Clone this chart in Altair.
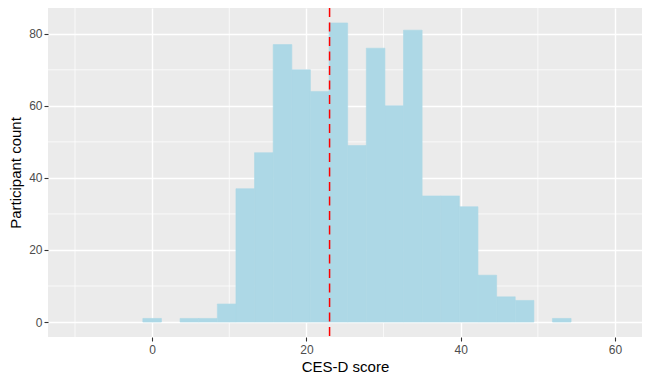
import altair as alt
import pandas as pd

# ---- data ----
binwidth = 70 / 29
bin_centers = [0.00, 2.41, 4.83, 7.24, 9.66, 12.07, 14.48, 16.90, 19.31, 21.72,
               24.14, 26.55, 28.97, 31.38, 33.79, 36.21, 38.62, 41.03, 43.45,
               45.86, 48.28, 50.69, 53.10]
counts = [1, 0, 1, 1, 5, 37, 47, 77, 70, 64,
          83, 49, 76, 60, 81, 35, 35, 32, 13,
          7, 6, 0, 1]
mean_score = [23.0]

x_major = [0, 20, 40, 60]
x_minor = [-10, 10, 30, 50]
y_major = [0, 20, 40, 60, 80]
y_minor = [10, 30, 50, 70]

hist = pd.DataFrame({
    "lo": [c - binwidth / 2 for c in bin_centers],
    "hi": [c + binwidth / 2 for c in bin_centers],
    "count": counts,
    "base": [0] * len(counts),
})
hist = hist[hist["count"] > 0]
mean_df = pd.DataFrame({"m": mean_score})
xminor_df = pd.DataFrame({"v": x_minor})
yminor_df = pd.DataFrame({"v": y_minor})

FONT = "Liberation Sans"
xscale = alt.Scale(domain=[-13.5, 63.5], nice=False, zero=False)
yscale = alt.Scale(domain=[-4.15, 87.15], nice=False, zero=False)

xaxis = alt.Axis(values=x_major, title="CES-D score", grid=True, gridColor="white",
                 gridWidth=1.4, domain=False, tickColor="#333333", tickSize=4,
                 tickWidth=1.1, labelColor="#4D4D4D", labelFontSize=12,
                 labelPadding=3, titleFontSize=15, titleColor="black",
                 titleFontWeight="normal", titlePadding=4, labelFont=FONT,
                 titleFont=FONT)
yaxis = alt.Axis(values=y_major, title="Participant count", grid=True, gridColor="white",
                 gridWidth=1.4, domain=False, tickColor="#333333", tickSize=4,
                 tickWidth=1.1, labelColor="#4D4D4D", labelFontSize=12,
                 labelPadding=2, titleFontSize=15, titleColor="black",
                 titleFontWeight="normal", titlePadding=5, labelFont=FONT,
                 titleFont=FONT)

minor_x = alt.Chart(xminor_df).mark_rule(color="white", strokeWidth=0.7).encode(
    x=alt.X("v:Q", scale=xscale, axis=xaxis))
minor_y = alt.Chart(yminor_df).mark_rule(color="white", strokeWidth=0.7).encode(
    y=alt.Y("v:Q", scale=yscale, axis=yaxis))

bars = alt.Chart(hist).mark_rect(color="#ADD8E6", stroke="#ADD8E6",
                                 strokeWidth=0.6).encode(
    x=alt.X("lo:Q", scale=xscale, axis=xaxis),
    x2="hi:Q",
    y=alt.Y("count:Q", scale=yscale, axis=yaxis),
    y2="base:Q",
)

vline = alt.Chart(mean_df).mark_rule(color="#FF0000", strokeWidth=1.5,
                                     strokeDash=[9, 5.5]).encode(
    x=alt.X("m:Q", scale=xscale, axis=xaxis))

chart = alt.layer(minor_x, minor_y, bars, vline).properties(
    width=594, height=329,
    autosize=alt.AutoSizeParams(type="none"),
    padding={"left": 40, "top": 0, "right": 0, "bottom": 39},
    background="white",
).configure_view(fill="#EBEBEB", stroke=None)

chart.save("out.html", embed_options={"renderer": "svg", "actions": False})
